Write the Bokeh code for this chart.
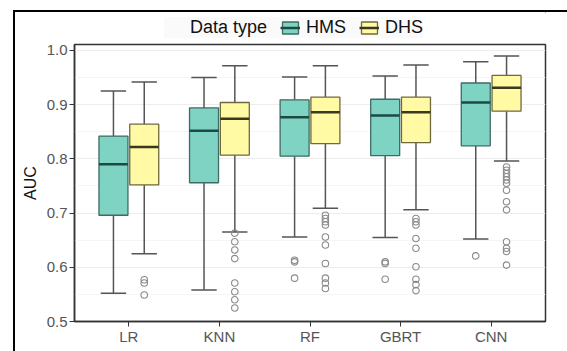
from bokeh.plotting import figure
from bokeh.layouts import column
from bokeh.models import (Range1d, FixedTicker, NumeralTickFormatter, Legend, LegendItem,
                          ColumnDataSource)
from bokeh.embed import file_html
from bokeh.resources import INLINE

categories = ["LR", "KNN", "RF", "GBRT", "CNN"]
series = ["HMS", "DHS"]
legend_title = "Data type"

# HMS box statistics
hms_lower = [0.552, 0.558, 0.656, 0.655, 0.652]
hms_q1 = [0.696, 0.756, 0.805, 0.806, 0.824]
hms_median = [0.790, 0.852, 0.877, 0.880, 0.904]
hms_q3 = [0.842, 0.894, 0.909, 0.910, 0.940]
hms_upper = [0.925, 0.950, 0.951, 0.953, 0.979]
hms_outliers = [
    [],
    [],
    [0.613, 0.610, 0.580],
    [0.610, 0.607, 0.578],
    [0.621],
]

# DHS box statistics
dhs_lower = [0.625, 0.665, 0.709, 0.706, 0.796]
dhs_q1 = [0.752, 0.807, 0.828, 0.830, 0.888]
dhs_median = [0.822, 0.874, 0.886, 0.886, 0.931]
dhs_q3 = [0.864, 0.904, 0.914, 0.914, 0.954]
dhs_upper = [0.942, 0.972, 0.972, 0.973, 0.990]
dhs_outliers = [
    [0.577, 0.571, 0.549],
    [0.663, 0.647, 0.632, 0.616, 0.571, 0.555, 0.540, 0.525],
    [0.696, 0.690, 0.684, 0.678, 0.656, 0.641, 0.607, 0.580, 0.571, 0.561],
    [0.690, 0.684, 0.678, 0.653, 0.635, 0.601, 0.578, 0.568, 0.557],
    [0.785, 0.779, 0.773, 0.767, 0.761, 0.755, 0.742, 0.721, 0.706, 0.647, 0.635, 0.629, 0.604],
]

y_ticks = [0.5, 0.6, 0.7, 0.8, 0.9, 1.0]
y_minor = [0.55, 0.65, 0.75, 0.85, 0.95]

fill_colors = {"HMS": "#7FD3C2", "DHS": "#FFFAA3"}
edge_colors = {"HMS": "#3E6B62", "DHS": "#6E6A40"}
median_colors = {"HMS": "#1D4A41", "DHS": "#3A3820"}
offsets = {"HMS": -0.17, "DHS": 0.17}
box_w = 0.32
cap_w = 0.28

# ---------- main panel ----------
p = figure(width=552, height=309, output_backend="svg", toolbar_location=None,
           x_range=Range1d(0.4, 5.6), y_range=Range1d(0.5, 1.011),
           min_border_left=59, min_border_right=22, min_border_top=2, min_border_bottom=30)
p.background_fill_color = "white"
p.border_fill_color = "white"
p.outline_line_color = "#333333"
p.outline_line_width = 1.5

stats = {
    "HMS": (hms_lower, hms_q1, hms_median, hms_q3, hms_upper, hms_outliers),
    "DHS": (dhs_lower, dhs_q1, dhs_median, dhs_q3, dhs_upper, dhs_outliers),
}

for s in series:
    lo, q1, med, q3, up, outs = stats[s]
    xs = [i + 1 + offsets[s] for i in range(len(categories))]
    src = ColumnDataSource(dict(
        x=xs, lo=lo, q1=q1, med=med, q3=q3, up=up,
        xl=[x - box_w / 2 for x in xs], xr=[x + box_w / 2 for x in xs],
        cl=[x - cap_w / 2 for x in xs], cr=[x + cap_w / 2 for x in xs],
    ))
    p.segment(x0="x", x1="x", y0="q3", y1="up", source=src, line_color="#555555", line_width=1.5)
    p.segment(x0="x", x1="x", y0="lo", y1="q1", source=src, line_color="#555555", line_width=1.5)
    p.segment(x0="cl", x1="cr", y0="up", y1="up", source=src, line_color="#555555", line_width=1.5)
    p.segment(x0="cl", x1="cr", y0="lo", y1="lo", source=src, line_color="#555555", line_width=1.5)
    p.vbar(x="x", width=box_w, top="q3", bottom="q1", source=src,
           fill_color=fill_colors[s], line_color=edge_colors[s], line_width=1.3)
    p.segment(x0="xl", x1="xr", y0="med", y1="med", source=src,
              line_color=median_colors[s], line_width=2.5)
    ox, oy = [], []
    for i, vals in enumerate(outs):
        for v in vals:
            ox.append(i + 1 + offsets[s])
            oy.append(v)
    p.scatter(ox, oy, marker="circle", size=6.5, fill_color=None,
              line_color="#8A8A8A", line_width=1.1)

p.xaxis.ticker = FixedTicker(ticks=[1, 2, 3, 4, 5])
p.xaxis.major_label_overrides = {i + 1: c for i, c in enumerate(categories)}
p.yaxis.ticker = FixedTicker(ticks=y_ticks, minor_ticks=y_minor)
p.yaxis.formatter = NumeralTickFormatter(format="0.0")
for ax in (p.xaxis[0], p.yaxis[0]):
    ax.axis_line_color = "#333333"
    ax.axis_line_width = 1.5
    ax.major_tick_line_color = "#333333"
    ax.major_tick_out = 5
    ax.major_tick_in = 0
    ax.minor_tick_out = 0
    ax.minor_tick_in = 0
    ax.major_label_text_font = "Liberation Sans"
    ax.major_label_text_font_size = "15px"
    ax.major_label_text_color = "#555555"
p.xaxis.major_label_standoff = 1
p.yaxis.major_label_standoff = 2
p.yaxis.axis_label = "AUC"
p.yaxis.axis_label_text_font = "Liberation Sans"
p.yaxis.axis_label_text_font_size = "16px"
p.yaxis.axis_label_text_font_style = "normal"
p.yaxis.axis_label_text_color = "#111111"
p.yaxis.axis_label_standoff = 5

p.xgrid.grid_line_color = None
p.ygrid.grid_line_color = "#EDEDED"
p.ygrid.minor_grid_line_color = "#F5F5F5"

# ---------- legend strip ----------
pl = figure(width=552, height=30, output_backend="svg", toolbar_location=None,
            x_range=Range1d(0, 1), y_range=Range1d(0, 1),
            x_axis_type=None, y_axis_type=None, min_border=0,
            min_border_left=0, min_border_right=0, min_border_top=0, min_border_bottom=0)
pl.outline_line_color = None
pl.grid.grid_line_color = None
pl.background_fill_color = "white"
pl.border_fill_color = "white"

dummy = pl.scatter([5], [5], size=1, fill_alpha=0, line_alpha=0)
legend_items = [LegendItem(label=legend_title, renderers=[dummy])]
for s in series:
    b = pl.vbar(x=[5], width=0.1, top=[6], bottom=[5],
                fill_color=fill_colors[s], line_color=edge_colors[s], line_width=1.3)
    m = pl.segment(x0=[5], x1=[6], y0=[5], y1=[5], line_color=median_colors[s], line_width=2.5)
    legend_items.append(LegendItem(label=s, renderers=[b, m]))

legend = Legend(items=legend_items, orientation="horizontal", location=(90, 4))
legend.label_text_font = "Liberation Sans"
legend.label_text_font_size = "18px"
legend.label_text_color = "#111111"
legend.glyph_width = 20
legend.glyph_height = 15
legend.label_standoff = 6
legend.spacing = 13
legend.padding = 3
legend.margin = 0
legend.background_fill_color = "#FAFAFA"
legend.border_line_color = None
pl.add_layout(legend, "center")

layout = column(pl, p, spacing=0, margin=(10, 0, 0, 13),
                styles={"border-left": "2px solid #000000", "border-top": "2px solid #000000"})

open("out.html", "w").write(file_html(layout, INLINE))
